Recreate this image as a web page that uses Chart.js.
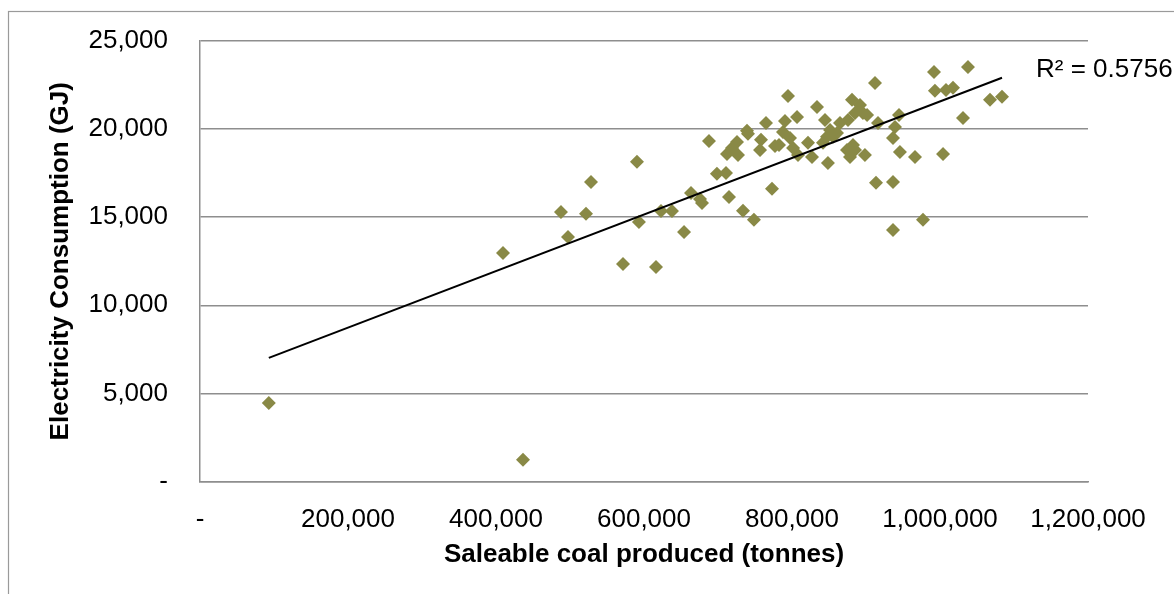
<!DOCTYPE html>
<html>
<head>
<meta charset="utf-8">
<script src="https://cdn.jsdelivr.net/npm/chart.js@4"></script>
<style>
  html, body { margin: 0; padding: 0; background: #fff; }
  #wrap { width: 1174px; height: 594px; position: relative; }
</style>
</head>
<body>
<div id="wrap"><canvas id="c" width="1174" height="594"></canvas></div>
<script>
const coalProduced = [
  93000, 436500, 409500, 487800, 497300, 528400, 521600, 590500, 593200, 571600,
  616200, 623000, 637800, 654100, 663500, 675700, 678400, 687800, 698600, 710800,
  714900, 733800, 748600, 773000, 712200, 718900, 725700, 727000, 739200, 740500,
  758100, 764900, 756800, 777000, 782400, 790500, 794600, 787800, 797300, 801400,
  806800, 808100, 821600, 827000, 833800, 844600, 841900, 847300, 851400, 860800,
  855400, 848600, 864900, 875700, 881100, 891900, 885100, 895900, 882400, 885100,
  878400, 874300, 898600, 901400, 912200, 916200, 913500, 944600, 939200, 936500,
  945900, 966200, 936500, 936500, 977000, 991900, 993200, 1004100, 1008100, 1017600,
  1031100, 1037800, 1067600, 1083800
];
const electricityGJ = [
  4460, 1230, 12970, 15290, 13880, 17000, 15190, 18140, 14730, 12350,
  12180, 15350, 15350, 14160, 16380, 16040, 15810, 19330, 17460, 17510,
  16150, 15360, 14850, 16610, 18590, 18930, 19270, 18530, 19900, 19730,
  19390, 20350, 18820, 19040, 19100, 20460, 21880, 19840, 19500, 18930,
  20690, 18530, 19220, 18420, 21260, 20520, 19220, 19560, 19950, 19780,
  19560, 18080, 20350, 20520, 21660, 21370, 20920, 20920, 19100, 18820,
  18420, 18820, 18530, 20800, 22620, 20350, 16950, 20800, 20120, 19500,
  18700, 18420, 17000, 14280, 14850, 23240, 22170, 18590, 22220, 22340,
  20630, 23530, 21660, 21830
];
const xTicks = [0, 200000, 400000, 600000, 800000, 1000000, 1200000];
const yTicks = [0, 5000, 10000, 15000, 20000, 25000];
const rSquaredLabel = 'R² = 0.5756';
const xTitle = 'Saleable coal produced (tonnes)';
const yTitle = 'Electricity Consumption (GJ)';

// Linear least-squares trendline from the data
const n = coalProduced.length;
let sx = 0, sy = 0, sxx = 0, sxy = 0;
for (let i = 0; i < n; i++) {
  sx += coalProduced[i]; sy += electricityGJ[i];
  sxx += coalProduced[i] * coalProduced[i]; sxy += coalProduced[i] * electricityGJ[i];
}
const slope = (n * sxy - sx * sy) / (n * sxx - sx * sx);
const intercept = (sy - slope * sx) / n;
const xMin = Math.min(...coalProduced), xMax = Math.max(...coalProduced);
const trend = [{x: xMin, y: intercept + slope * xMin}, {x: xMax, y: intercept + slope * xMax}];

const points = coalProduced.map((x, i) => ({x, y: electricityGJ[i]}));
const fmt = v => v === 0 ? '-' : v.toLocaleString('en-US');

const FONT = "'Liberation Sans', Arial, sans-serif";
const GRID = '#8e8e8e';
const OLIVE = '#898946';

const decor = {
  id: 'decor',
  beforeDraw(chart) {
    const ctx = chart.ctx;
    ctx.save();
    ctx.strokeStyle = '#9a9a9a';
    ctx.lineWidth = 1.2;
    ctx.strokeRect(8.5, 11.5, 1300, 700);
    ctx.restore();
  },
  afterDatasetsDraw(chart) {
    const ctx = chart.ctx;
    const xs = chart.scales.x, ys = chart.scales.y;
    const end = trend[trend.length - 1];
    const px = xs.getPixelForValue(end.x) + 34;
    const py = ys.getPixelForValue(end.y) - 8;
    ctx.save();
    ctx.font = "26px " + FONT;
    ctx.fillStyle = '#000';
    ctx.textBaseline = 'middle';
    ctx.textAlign = 'left';
    ctx.fillText(rSquaredLabel, px, py);
    ctx.restore();
  }
};

new Chart(document.getElementById('c'), {
  type: 'scatter',
  data: {
    datasets: [
      {
        label: 'Electricity',
        data: points,
        pointStyle: 'rectRot',
        pointRadius: 7,
        pointHoverRadius: 7,
        pointBackgroundColor: OLIVE,
        pointBorderColor: OLIVE,
        pointBorderWidth: 0,
        order: 2
      },
      {
        label: 'Trend',
        type: 'line',
        data: trend,
        borderColor: '#000',
        borderWidth: 2,
        pointRadius: 0,
        fill: false,
        order: 1
      }
    ]
  },
  plugins: [decor],
  options: {
    responsive: false,
    animation: false,
    events: [],
    layout: { padding: { top: 41, right: 86, left: 0, bottom: 0 } },
    plugins: { legend: { display: false }, tooltip: { enabled: false } },
    scales: {
      x: {
        type: 'linear',
        min: 0, max: 1200000,
        afterBuildTicks: s => { s.ticks = xTicks.map(v => ({value: v})); },
        afterFit: s => { s.height = 112.5; s.paddingLeft = 0; s.paddingRight = 0; },
        grid: { display: false, drawTicks: false },
        border: { display: true, color: GRID, width: 1.5 },
        ticks: { color: '#000', font: { family: FONT, size: 26 }, padding: 23, maxRotation: 0, autoSkip: false, callback: v => fmt(v) },
        title: { display: true, text: xTitle, color: '#000', font: { family: FONT, size: 26, weight: 'bold' }, padding: { top: 0, bottom: 24 } }
      },
      y: {
        type: 'linear',
        min: 0, max: 25000,
        afterBuildTicks: s => { s.ticks = yTicks.map(v => ({value: v})); },
        afterFit: s => { s.width = 200; s.paddingTop = 0; s.paddingBottom = 0; },
        grid: { color: GRID, lineWidth: 1.5, drawTicks: false },
        border: { display: true, color: GRID, width: 1.5 },
        ticks: { color: '#000', font: { family: FONT, size: 26 }, padding: 32, callback: v => fmt(v) },
        title: { display: true, text: yTitle, color: '#000', font: { family: FONT, size: 26, weight: 'bold' }, padding: { top: 45, bottom: 0 } }
      }
    }
  }
});
</script>
</body>
</html>
